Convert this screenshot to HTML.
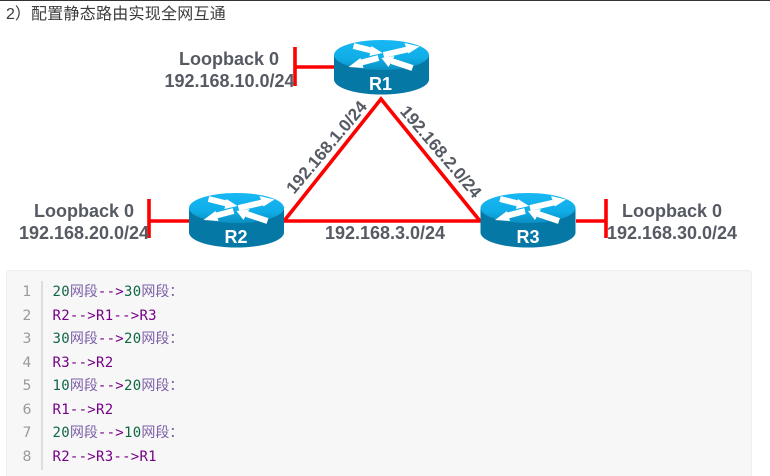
<!DOCTYPE html>
<html><head><meta charset="utf-8">
<style>
html,body{margin:0;padding:0;background:#fff;width:770px;height:476px;overflow:hidden}
svg{display:block;position:absolute;left:0;top:0}
.t{font-family:"Liberation Sans",sans-serif;font-weight:bold;font-size:18px;fill:#565a63}
.a{font-size:17.2px}
.c{font-family:"DejaVu Sans Mono","Noto Sans CJK SC",monospace;font-size:14px;letter-spacing:.27px}
.n{font-family:"DejaVu Sans",sans-serif;font-size:14px;fill:#999}
.g{fill:#116644}.p{fill:#770088}.z{fill:#7d5fa8;font-family:"Noto Sans CJK SC",sans-serif;font-size:14px;letter-spacing:0}
.r{font-family:"Liberation Sans",sans-serif;font-weight:bold;font-size:18px;fill:#fff}
</style></head><body>
<svg width="770" height="476" viewBox="0 0 770 476" xmlns="http://www.w3.org/2000/svg">
<defs>
<linearGradient id="top" x1="0" y1="0" x2="0" y2="1"><stop offset="0" stop-color="#17b8f4"/><stop offset="0.6" stop-color="#10aee8"/><stop offset="1" stop-color="#0a8fc2"/></linearGradient>
<g id="router">
<path d="M-47.5 15 V39.5 A47.5 15 0 0 0 47.5 39.5 V15 Z" fill="#0678a5"/>
<ellipse cx="0" cy="15" rx="47.5" ry="15" fill="url(#top)"/>
<g fill="#fff" stroke="none">
<path d="M-28 6 L-8 11" stroke="#fff" stroke-width="6" fill="none"/>
<path d="M1 13 L-10 6 L-12 16 Z"/>
<path d="M2 15 L28 9" stroke="#fff" stroke-width="6" fill="none"/>
<path d="M38 6.5 L23 3 L27 13.5 Z"/>
<path d="M-3 18 L-22 23" stroke="#fff" stroke-width="6" fill="none"/>
<path d="M-33 27 L-21 18 L-18 28 Z"/>
<path d="M31 28 L10 21" stroke="#fff" stroke-width="6" fill="none"/>
<path d="M0 18 L13 16 L7 27 Z"/>
</g>
</g>
</defs>
<rect x="0" y="0" width="770" height="1" fill="#333"/>
<text x="6" y="19" font-family="'Liberation Sans','Noto Sans CJK SC',sans-serif" font-size="16" fill="#3c3c3c">2）</text>
<text x="31" y="19" font-family="'Liberation Sans','Noto Sans CJK SC',sans-serif" font-size="16" letter-spacing=".25" fill="#3c3c3c">配置静态路由实现全网互通</text>

<g stroke="#ff0000" fill="none" stroke-width="3.6">
<path d="M284 221 L381 99 L480 221 Z"/>
<path d="M295 47 V86 M295 67 H334"/>
<path d="M149 199 V238 M149 221 H189"/>
<path d="M606 199 V238 M576 221 H606"/>
</g>

<use href="#router" x="381.5" y="40"/>
<use href="#router" x="236.5" y="193"/>
<use href="#router" x="528" y="193"/>
<text class="r" x="380.5" y="90" text-anchor="middle">R1</text>
<text class="r" x="236" y="243" text-anchor="middle">R2</text>
<text class="r" x="528" y="243" text-anchor="middle">R3</text>

<text class="t" x="229" y="65" text-anchor="middle">Loopback 0</text>
<text class="t" x="229.5" y="87" text-anchor="middle">192.168.10.0/24</text>
<text class="t" x="84" y="217" text-anchor="middle">Loopback 0</text>
<text class="t" x="84" y="239" text-anchor="middle">192.168.20.0/24</text>
<text class="t" x="672" y="217" text-anchor="middle">Loopback 0</text>
<text class="t" x="672" y="239" text-anchor="middle">192.168.30.0/24</text>
<text class="t" x="385" y="239" text-anchor="middle">192.168.3.0/24</text>
<text class="t a" text-anchor="middle" transform="translate(331 151) rotate(-50)">192.168.1.0/24</text>
<text class="t a" text-anchor="middle" transform="translate(436.5 155.5) rotate(49.5)">192.168.2.0/24</text>

<rect x="6.5" y="270.5" width="745" height="220" rx="3" fill="#f7f7f7" stroke="#eeeeee"/>
<rect x="41" y="281" width="2" height="189" fill="#dddddd"/>

<g class="n" text-anchor="middle">
<text x="27" y="296">1</text><text x="27" y="320">2</text><text x="27" y="343">3</text><text x="27" y="367">4</text>
<text x="27" y="390">5</text><text x="27" y="414">6</text><text x="27" y="437">7</text><text x="27" y="461">8</text>
</g>
<g class="c">
<text x="52.5" y="296"><tspan class="g">20</tspan><tspan class="z">网段</tspan><tspan class="p">--&gt;</tspan><tspan class="g">30</tspan><tspan class="z">网段：</tspan></text>
<text x="52.5" y="320" class="p">R2--&gt;R1--&gt;R3</text>
<text x="52.5" y="343"><tspan class="g">30</tspan><tspan class="z">网段</tspan><tspan class="p">--&gt;</tspan><tspan class="g">20</tspan><tspan class="z">网段：</tspan></text>
<text x="52.5" y="367" class="p">R3--&gt;R2</text>
<text x="52.5" y="390"><tspan class="g">10</tspan><tspan class="z">网段</tspan><tspan class="p">--&gt;</tspan><tspan class="g">20</tspan><tspan class="z">网段：</tspan></text>
<text x="52.5" y="414" class="p">R1--&gt;R2</text>
<text x="52.5" y="437"><tspan class="g">20</tspan><tspan class="z">网段</tspan><tspan class="p">--&gt;</tspan><tspan class="g">10</tspan><tspan class="z">网段：</tspan></text>
<text x="52.5" y="461" class="p">R2--&gt;R3--&gt;R1</text>
</g>
</svg>
</body></html>
